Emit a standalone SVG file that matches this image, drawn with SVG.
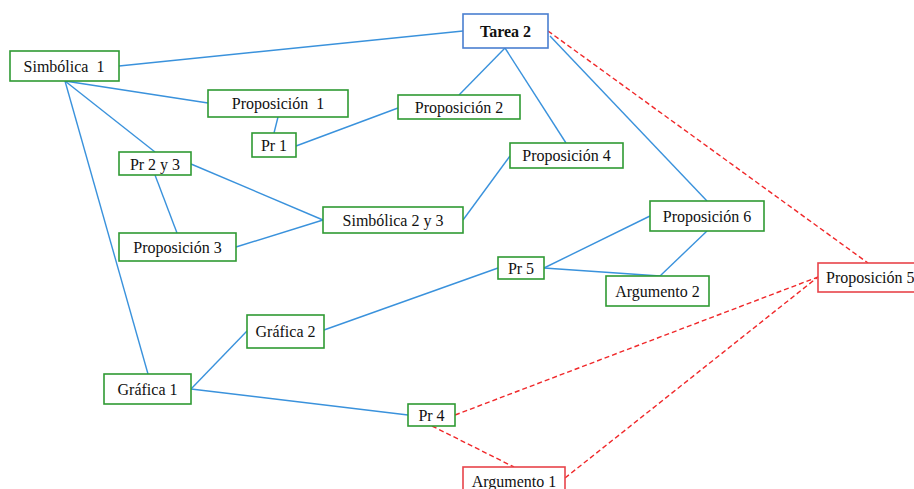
<svg xmlns="http://www.w3.org/2000/svg" width="914" height="489" viewBox="0 0 914 489">
<style>
.n rect{fill:#fff;stroke-width:1.6}
.g rect{stroke:#2f9a33}
.b rect{stroke:#4a7fd0}
.r rect{stroke:#e8444a}
.n text{font-family:"Liberation Serif",serif;font-size:16px;fill:#111;text-anchor:middle;white-space:pre}
.l{stroke:#3a92dc;stroke-width:1.4;fill:none}
.d{stroke:#f0282a;stroke-width:1.4;stroke-dasharray:5 3;fill:none}
</style>
<rect width="914" height="489" fill="#fff"/>
<g id="connectors">
<line class="l" x1="119" y1="66" x2="463" y2="31"/>
<line class="l" x1="65" y1="81" x2="208" y2="103"/>
<line class="l" x1="65" y1="81" x2="155" y2="152"/>
<line class="l" x1="65" y1="81" x2="148" y2="374"/>
<line class="l" x1="278" y1="117" x2="274" y2="133"/>
<line class="l" x1="296" y1="146" x2="398" y2="108"/>
<line class="l" x1="505" y1="48" x2="459" y2="95"/>
<line class="l" x1="505" y1="48" x2="566" y2="143"/>
<line class="l" x1="550" y1="36" x2="707" y2="201"/>
<line class="l" x1="191" y1="164" x2="323" y2="220"/>
<line class="l" x1="155" y1="175" x2="177" y2="233"/>
<line class="l" x1="236" y1="247" x2="323" y2="220"/>
<line class="l" x1="463" y1="220" x2="510" y2="156"/>
<line class="l" x1="650" y1="216" x2="544" y2="268"/>
<line class="l" x1="544" y1="268" x2="660" y2="276"/>
<line class="l" x1="707" y1="231" x2="660" y2="276"/>
<line class="l" x1="324" y1="330" x2="498" y2="268"/>
<line class="l" x1="191" y1="389" x2="247" y2="331"/>
<line class="l" x1="191" y1="389" x2="408" y2="415"/>
<line class="d" x1="548" y1="31" x2="868" y2="263"/>
<line class="d" x1="455" y1="415" x2="818" y2="277"/>
<line class="d" x1="432" y1="426" x2="514" y2="467"/>
<line class="d" x1="565" y1="478" x2="818" y2="277"/>
</g>
<g id="tarea2" class="n b"><rect x="463" y="14" width="85" height="34"/><text x="505.5" y="37" font-weight="bold">Tarea 2</text></g>
<g id="simbolica1" class="n g"><rect x="10" y="51" width="109" height="30"/><text x="64" y="72">Simbólica  1</text></g>
<g id="proposicion1" class="n g"><rect x="208" y="90" width="140" height="27"/><text x="278" y="109">Proposición  1</text></g>
<g id="pr1" class="n g"><rect x="252" y="133" width="44" height="24"/><text x="274" y="151">Pr 1</text></g>
<g id="proposicion2" class="n g"><rect x="398" y="95" width="122" height="24"/><text x="459" y="113">Proposición 2</text></g>
<g id="pr2y3" class="n g"><rect x="119" y="152" width="72" height="23"/><text x="155" y="170">Pr 2 y 3</text></g>
<g id="proposicion4" class="n g"><rect x="510" y="143" width="113" height="25"/><text x="566.5" y="161">Proposición 4</text></g>
<g id="simbolica2y3" class="n g"><rect x="323" y="207" width="140" height="26"/><text x="393" y="226">Simbólica 2 y 3</text></g>
<g id="proposicion3" class="n g"><rect x="119" y="233" width="117" height="28"/><text x="177.5" y="253">Proposición 3</text></g>
<g id="proposicion6" class="n g"><rect x="650" y="201" width="114" height="30"/><text x="707" y="222">Proposición 6</text></g>
<g id="pr5" class="n g"><rect x="498" y="257" width="46" height="22"/><text x="521" y="274">Pr 5</text></g>
<g id="argumento2" class="n g"><rect x="606" y="276" width="103" height="30"/><text x="657.5" y="297">Argumento 2</text></g>
<g id="proposicion5" class="n r"><rect x="818" y="263" width="110" height="29"/><text x="826" y="283" style="text-anchor:start">Proposición 5</text></g>
<g id="grafica2" class="n g"><rect x="247" y="315" width="77" height="33"/><text x="285.5" y="337">Gráfica 2</text></g>
<g id="grafica1" class="n g"><rect x="104" y="374" width="87" height="30"/><text x="147.5" y="395">Gráfica 1</text></g>
<g id="pr4" class="n g"><rect x="408" y="404" width="47" height="22"/><text x="431.5" y="421">Pr 4</text></g>
<g id="argumento1" class="n r"><rect x="463" y="467" width="102" height="30"/><text x="514" y="487">Argumento 1</text></g>
</svg>
